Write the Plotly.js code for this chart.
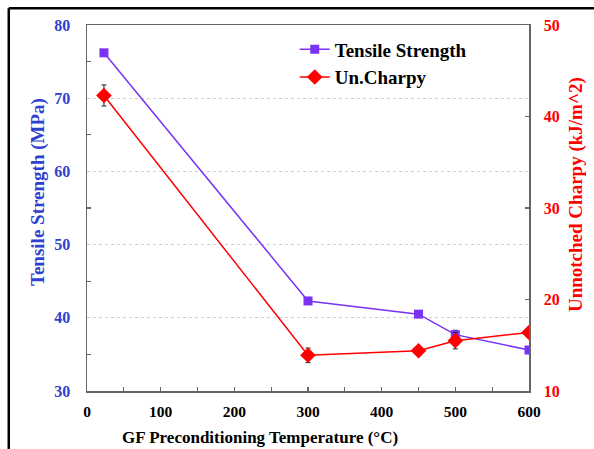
<!DOCTYPE html>
<html>
<head>
<meta charset="utf-8">
<script src="https://cdn.plot.ly/plotly-3.0.1.min.js"></script>
<style>
html,body{margin:0;padding:0;background:#fff;}
#chart{width:594px;height:449px;}
</style>
</head>
<body>
<div id="chart"></div>
<script>
// Data
const temps = [23, 300, 450, 500, 600];
const tensile = [76.2, 42.3, 40.5, 37.7, 35.6];
const tensileErr = [0.2, 0.4, 0.2, 0.6, 0.2];
const charpy = [42.3, 13.9, 14.4, 15.5, 16.4];
const charpyErr = [1.15, 0.8, 0.3, 0.9, 0.3];
const seriesNames = ["Tensile Strength", "Un.Charpy"];
const xTitle = "GF Preconditioning Temperature (°C)";
const yTitle = "Tensile Strength (MPa)";
const y2Title = "Unnotched Charpy (kJ/m^2)";

const FONT = "Times New Roman";
const purple = "#7a33f5";
const red = "#ff0000";
const blue = "#2f3fcf";

const traces = [
  {
    x: temps, y: tensile, name: seriesNames[0], type: "scatter", mode: "lines+markers",
    line: {color: purple, width: 1.5},
    marker: {symbol: "square", size: 9, color: purple},
    error_y: {type: "data", array: tensileErr, visible: true, color: "#222", thickness: 1, width: 2.5},
    yaxis: "y"
  },
  {
    x: temps, y: charpy, name: seriesNames[1], type: "scatter", mode: "lines+markers",
    line: {color: red, width: 1.5},
    marker: {symbol: "diamond", size: 12, color: red},
    error_y: {type: "data", array: charpyErr, visible: true, color: "#222", thickness: 1, width: 2.5},
    yaxis: "y2"
  }
];

const layout = {
  width: 594, height: 449,
  margin: {l: 87, r: 65, t: 25, b: 58},
  paper_bgcolor: "#fff", plot_bgcolor: "#fff",
  font: {family: FONT, color: "#000", weight: "bold"},
  showlegend: true,
  legend: {
    x: 0.47, y: 0.985, xanchor: "left", yanchor: "top",
    bgcolor: "rgba(0,0,0,0)", itemwidth: 30,
    font: {size: 19, weight: "bold", color: "#000"},
    tracegroupgap: 0
  },
  xaxis: {
    range: [0, 600], dtick: 100, tick0: 0,
    showgrid: false, zeroline: false,
    showline: true, linecolor: "#666", linewidth: 1.5, mirror: true,
    ticks: "inside", ticklen: 4, tickcolor: "#666", tickwidth: 1.2,
    minor: {dtick: 50, ticks: "inside", ticklen: 4, tickcolor: "#666", tickwidth: 1.2, showgrid: false},
    tickfont: {size: 15.5, color: "#000"},
    ticklabelstandoff: 6
  },
  yaxis: {
    range: [30, 80], dtick: 10, tick0: 30,
    showgrid: true, gridcolor: "#cfcfcf", griddash: "dot", gridwidth: 1,
    zeroline: false,
    showline: true, linecolor: "#666", linewidth: 1.5,
    ticks: "",
    minor: {dtick: 5, ticks: "inside", ticklen: 4, tickcolor: "#666", tickwidth: 1.2, showgrid: false},
    tickfont: {size: 16, color: blue},
    ticklabelstandoff: 12
  },
  yaxis2: {
    range: [10, 50], dtick: 10, tick0: 10,
    overlaying: "y", side: "right",
    showgrid: false, zeroline: false,
    showline: true, linecolor: "#666", linewidth: 1.5,
    ticks: "inside", ticklen: 4, tickcolor: "#666", tickwidth: 1.2,
    tickfont: {size: 16, color: red},
    ticklabelstandoff: 10
  },
  annotations: [
    {text: xTitle, xref: "paper", yref: "paper", x: 0.3914, y: -0.127, xanchor: "center", yanchor: "middle",
     showarrow: false, font: {size: 17, color: "#000", weight: "bold"}},
    {text: yTitle, xref: "paper", yref: "paper", x: -0.1109, y: 0.5437, xanchor: "center", yanchor: "middle",
     textangle: -90, showarrow: false, font: {size: 19, color: blue, weight: "bold"}},
    {text: y2Title, xref: "paper", yref: "paper", x: 1.1063, y: 0.538, xanchor: "center", yanchor: "middle",
     textangle: -90, showarrow: false, font: {size: 19, color: red, weight: "bold"}}
  ],
  shapes: [
    {type: "line", xref: "paper", yref: "paper", x0: -0.177, x1: 1.2, y0: 1.046, y1: 1.046, line: {color: "#000", width: 2.5}},
    {type: "line", xref: "paper", yref: "paper", x0: -0.177, x1: -0.177, y0: 1.046, y1: -0.2, line: {color: "#000", width: 2.5}}
  ]
};

Plotly.newPlot("chart", traces, layout, {displayModeBar: false, staticPlot: true});
</script>
</body>
</html>
